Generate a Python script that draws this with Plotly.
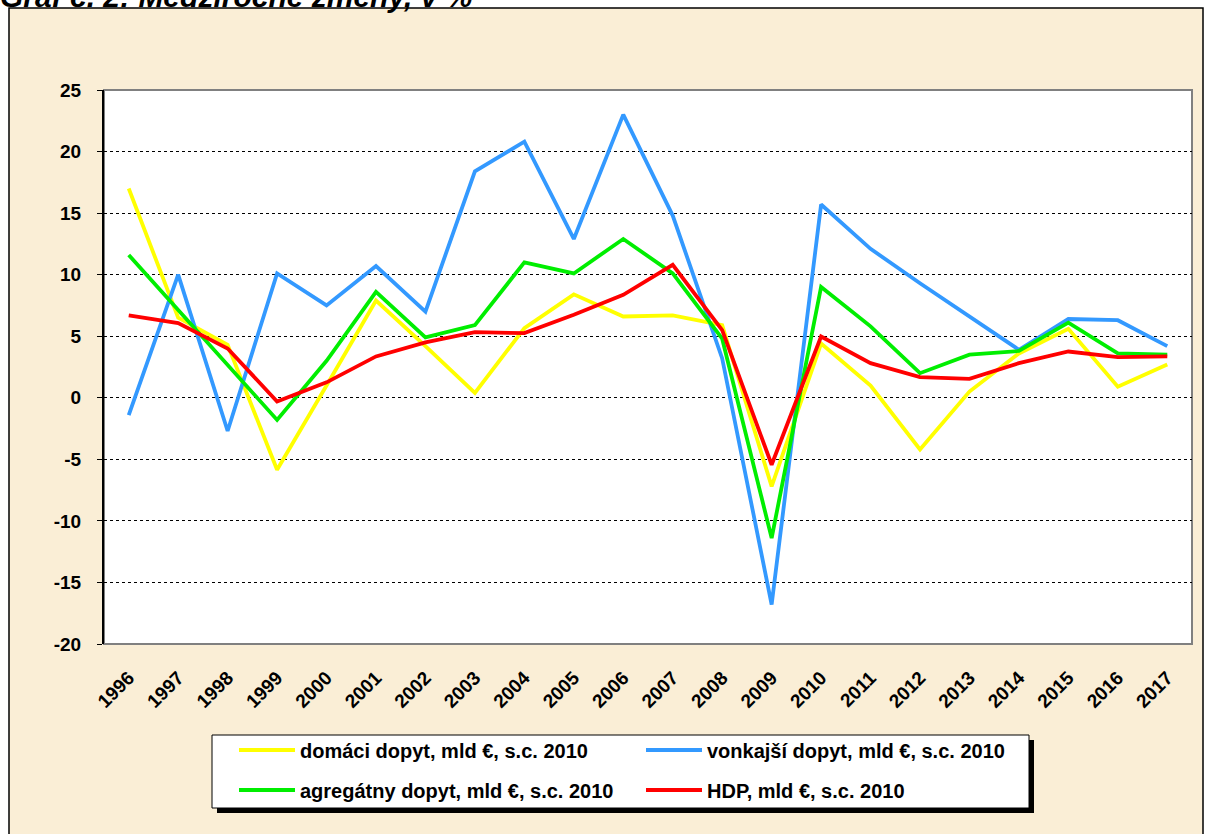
import plotly.graph_objects as go

years = [str(y) for y in range(1996, 2018)]

domaci = [17.0, 6.5, 4.3, -5.85, 1.0, 7.9, 4.2, 0.4, 5.65, 8.4, 6.6,
          6.7, 5.9, -7.2, 4.4, 1.0, -4.2, 0.5, 3.6, 5.6, 0.9, 2.7]
vonkajsi = [-1.4, 10.0, -2.7, 10.1, 7.5, 10.7, 7.0, 18.4, 20.8, 12.9, 23.0,
            14.8, 3.2, -16.8, 15.7, 12.1, 9.3, 6.6, 3.9, 6.4, 6.3, 4.2]
agregatny = [11.6, 7.1, 2.6, -1.8, 3.0, 8.6, 4.9, 5.9, 11.0, 10.1, 12.9,
             10.1, 4.8, -11.4, 9.0, 5.8, 2.0, 3.5, 3.8, 6.1, 3.6, 3.5]
hdp = [6.7, 6.06, 4.0, -0.3, 1.25, 3.36, 4.5, 5.33, 5.25, 6.74, 8.36,
       10.8, 5.5, -5.44, 4.98, 2.81, 1.68, 1.54, 2.81, 3.76, 3.3, 3.36]

y_ticks = [-20, -15, -10, -5, 0, 5, 10, 15, 20, 25]
y_labels = ["-20", "-15", "-10", "-5", "0", "5", "10", "15", "20", "25"]

series = [
    ("domáci dopyt, mld €, s.c. 2010", domaci, "#FFFF00", "legend"),
    ("vonkajší dopyt, mld €, s.c. 2010", vonkajsi, "#3399FF", "legend"),
    ("agregátny dopyt, mld €, s.c. 2010", agregatny, "#00EE00", "legend2"),
    ("HDP, mld €, s.c. 2010", hdp, "#FF0000", "legend2"),
]

W, H = 1206, 834
L, R, T, B = 104, 14, 90, 190
pw, ph = W - L - R, H - T - B


def px(x):
    return (x - L) / pw


def py(y):
    return (H - B - y) / ph


FONT = "Arial, Liberation Sans, sans-serif"

fig = go.Figure()
for name, vals, color, leg in series:
    fig.add_trace(go.Scatter(x=years, y=vals, name=name, mode="lines",
                             line=dict(color=color, width=3.8), legend=leg))

shapes = [
    # beige frame
    dict(type="rect", xref="paper", yref="paper", x0=px(9), x1=px(1203),
         y0=py(850), y1=py(8), fillcolor="#FAEED6",
         line=dict(color="black", width=1.5), layer="below"),
    # plot area
    dict(type="rect", xref="paper", yref="paper", x0=0, x1=1, y0=0, y1=1,
         fillcolor="white", line=dict(color="#808080", width=2), layer="below"),
    # legend shadow and box
    dict(type="rect", xref="paper", yref="paper", x0=px(217), x1=px(1034),
         y0=py(813), y1=py(740), fillcolor="black", line=dict(width=0),
         layer="below"),
    dict(type="rect", xref="paper", yref="paper", x0=px(212), x1=px(1029),
         y0=py(808), y1=py(735), fillcolor="white",
         line=dict(color="black", width=1), layer="below"),
]

leg_common = dict(orientation="h", entrywidth=336, entrywidthmode="pixels",
                  itemwidth=56, bgcolor="rgba(0,0,0,0)", borderwidth=0,
                  font=dict(family=FONT, size=20, color="black", weight="bold"),
                  xanchor="left", yanchor="middle")

fig.update_layout(
    width=W, height=H,
    margin=dict(l=L, r=R, t=T, b=B),
    paper_bgcolor="white",
    plot_bgcolor="rgba(0,0,0,0)",
    font=dict(family=FONT, size=19, color="black", weight="bold"),
    shapes=shapes,
    legend=dict(x=px(234), y=py(750), **leg_common),
    legend2=dict(x=px(234), y=py(790), **leg_common),
    annotations=[dict(text="<b><i>Graf č. 2: Medziročné zmeny, v %</i></b>",
                      xref="paper", yref="paper", x=px(-2), y=py(15),
                      xanchor="left", yanchor="bottom", showarrow=False,
                      font=dict(family=FONT, size=30, color="black"))],
    xaxis=dict(type="category", range=[-0.5, 21.5], tickangle=-45, ticks="",
               showline=False, showgrid=False, zeroline=False,
               ticklabelstandoff=18,
               tickfont=dict(family=FONT, size=19, weight="bold")),
    xaxis2=dict(overlaying="x", anchor="free", position=20 / 45,
                range=[-0.5, 21.5], tick0=-0.5, dtick=1, ticks="outside",
                ticklen=6, tickcolor="black", showline=True, linecolor="black",
                linewidth=1.5, showticklabels=False, showgrid=False,
                zeroline=False),
    yaxis=dict(range=[-20, 25], tickvals=y_ticks, ticktext=y_labels,
               ticks="outside", ticklen=5, tickcolor="black", showline=True,
               linecolor="black", linewidth=2, showgrid=True,
               gridcolor="black", gridwidth=1, griddash="dot", zeroline=False,
               ticklabelstandoff=12,
               tickfont=dict(family=FONT, size=19, weight="bold")),
)

fig.write_html("out.html", config={"displayModeBar": False},
               post_script="document.body.style.margin='0';")
